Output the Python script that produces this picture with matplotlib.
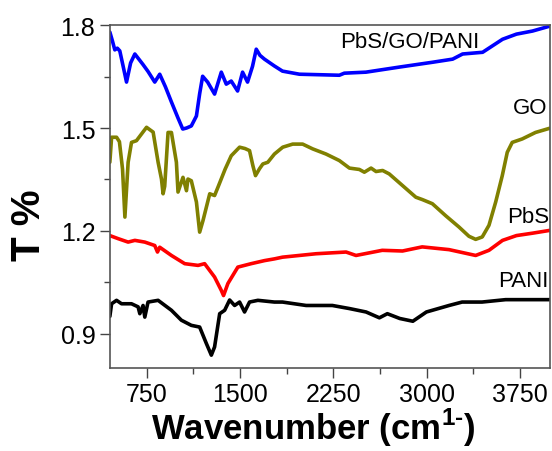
import numpy as np
import matplotlib
matplotlib.use("Agg")
import matplotlib.pyplot as plt
from matplotlib.ticker import MultipleLocator

plt.rcParams['font.family'] = ['Liberation Sans', 'DejaVu Sans']
plt.rcParams['mathtext.fontset'] = 'custom'
plt.rcParams['mathtext.rm'] = 'Liberation Sans:bold'

# FTIR traces (wavenumber, T %)
pgp_x = [453, 473, 493, 513, 533, 560, 587, 620, 654, 718, 760, 814, 854, 900, 948, 1000,
         1039, 1070, 1108, 1149, 1175, 1199, 1239, 1295, 1349, 1389, 1429, 1480, 1520, 1560,
         1600, 1630, 1660, 1696, 1776, 1841, 1977, 2298, 2338, 2512, 2784, 3049, 3209, 3289,
         3450, 3610, 3722, 3851, 3987]
pgp_y = [1.780, 1.755, 1.728, 1.733, 1.725, 1.680, 1.634, 1.690, 1.716, 1.686, 1.665, 1.634,
         1.657, 1.620, 1.576, 1.530, 1.497, 1.500, 1.506, 1.535, 1.600, 1.651, 1.634, 1.599,
         1.663, 1.628, 1.637, 1.608, 1.663, 1.634, 1.680, 1.730, 1.712, 1.701, 1.681, 1.666,
         1.657, 1.654, 1.660, 1.663, 1.678, 1.692, 1.701, 1.716, 1.721, 1.759, 1.774, 1.783,
         1.797]

go_x = [453, 467, 507, 530, 555, 574, 600, 627, 667, 748, 801, 841, 868, 881, 894, 921,
        948, 988, 1001, 1041, 1069, 1081, 1108, 1149, 1175, 1202, 1256, 1295, 1322, 1380,
        1429, 1496, 1540, 1576, 1603, 1624, 1656, 1683, 1723, 1776, 1843, 1923, 2003, 2084,
        2191, 2298, 2379, 2459, 2499, 2553, 2593, 2646, 2699, 2806, 2913, 2966, 3046, 3153,
        3260, 3340, 3394, 3447, 3501, 3555, 3608, 3648, 3688, 3768, 3875, 3987]
go_y = [1.400, 1.473, 1.473, 1.460, 1.380, 1.240, 1.400, 1.458, 1.463, 1.502, 1.488, 1.400,
        1.351, 1.308, 1.330, 1.487, 1.487, 1.400, 1.313, 1.356, 1.317, 1.351, 1.346, 1.284,
        1.196, 1.230, 1.308, 1.303, 1.327, 1.380, 1.419, 1.444, 1.440, 1.434, 1.390, 1.361,
        1.381, 1.395, 1.400, 1.424, 1.444, 1.453, 1.453, 1.439, 1.424, 1.405, 1.383, 1.379,
        1.371, 1.383, 1.373, 1.376, 1.366, 1.332, 1.298, 1.291, 1.279, 1.244, 1.211, 1.184,
        1.175, 1.182, 1.216, 1.284, 1.361, 1.429, 1.458, 1.468, 1.487, 1.499]

pbs_x = [453, 520, 600, 654, 734, 814, 836, 854, 948, 1055, 1162, 1215, 1295, 1349, 1367,
         1402, 1482, 1589, 1697, 1776, 1841, 2111, 2352, 2432, 2643, 2806, 2964, 3180, 3394,
         3501, 3610, 3722, 3851, 3987]
pbs_y = [1.186, 1.177, 1.167, 1.172, 1.167, 1.157, 1.138, 1.152, 1.128, 1.104, 1.099, 1.104,
         1.065, 1.026, 1.011, 1.046, 1.094, 1.104, 1.113, 1.118, 1.123, 1.133, 1.138, 1.128,
         1.143, 1.141, 1.153, 1.145, 1.128, 1.143, 1.172, 1.186, 1.193, 1.201]

pani_x = [453, 467, 507, 547, 627, 680, 694, 720, 734, 760, 841, 948, 1028, 1108, 1175,
          1229, 1269, 1295, 1336, 1376, 1416, 1456, 1496, 1536, 1576, 1643, 1776, 1841,
          2031, 2242, 2379, 2513, 2620, 2684, 2784, 2889, 2998, 3180, 3285, 3445, 3635, 3987]
pani_y = [0.950, 0.987, 0.997, 0.987, 0.987, 0.978, 0.958, 0.982, 0.948, 0.992, 0.997, 0.968,
          0.939, 0.924, 0.919, 0.871, 0.837, 0.861, 0.958, 0.968, 0.998, 0.982, 0.992, 0.963,
          0.992, 0.997, 0.992, 0.992, 0.982, 0.982, 0.973, 0.963, 0.946, 0.958, 0.944, 0.936,
          0.963, 0.982, 0.992, 0.992, 0.999, 0.999]

fig = plt.figure(figsize=(5.52, 4.52), dpi=100)
ax = fig.add_axes([0.199, 0.184, 0.797, 0.758])

kw = dict(lw=2.6, solid_joinstyle='round', solid_capstyle='round')
ax.plot(pgp_x, pgp_y, color='#0000ff', **kw)
ax.plot(go_x, go_y, color='#808000', **kw)
ax.plot(pbs_x, pbs_y, color='#ff0000', **kw)
ax.plot(pani_x, pani_y, color='black', **kw)

ax.text(2865, 1.753, 'PbS/GO/PANI', fontsize=16, ha='center', va='center')
ax.text(3830, 1.561, 'GO', fontsize=16, ha='center', va='center')
ax.text(3820, 1.241, 'PbS', fontsize=16, ha='center', va='center')
ax.text(3774, 1.054, 'PANI', fontsize=16, ha='center', va='center')

ax.set_xlim(453, 3990)
ax.set_ylim(0.8, 1.8)
ax.xaxis.set_major_locator(MultipleLocator(750))
ax.xaxis.set_minor_locator(MultipleLocator(375))
ax.yaxis.set_minor_locator(MultipleLocator(0.15))
ax.set_yticks([0.9, 1.2, 1.5, 1.8])
ax.tick_params(which='both', direction='out', top=False, right=False, labelsize=18,
               color='#444444')
ax.tick_params(which='major', length=7, width=1)
ax.tick_params(which='minor', length=4, width=1)
for s in ax.spines.values():
    s.set_color('#555555')
    s.set_linewidth(1.2)

fig.text(0.567, 0.026, 'Wavenumber (cm$^{\\text{1-}}$)', fontsize=25, fontweight='bold',
         ha='center', va='baseline')
fig.text(0.053, 0.502, 'T %', fontsize=29, fontweight='bold', rotation=90,
         ha='center', va='center')

fig.savefig('out.png', dpi=100)
